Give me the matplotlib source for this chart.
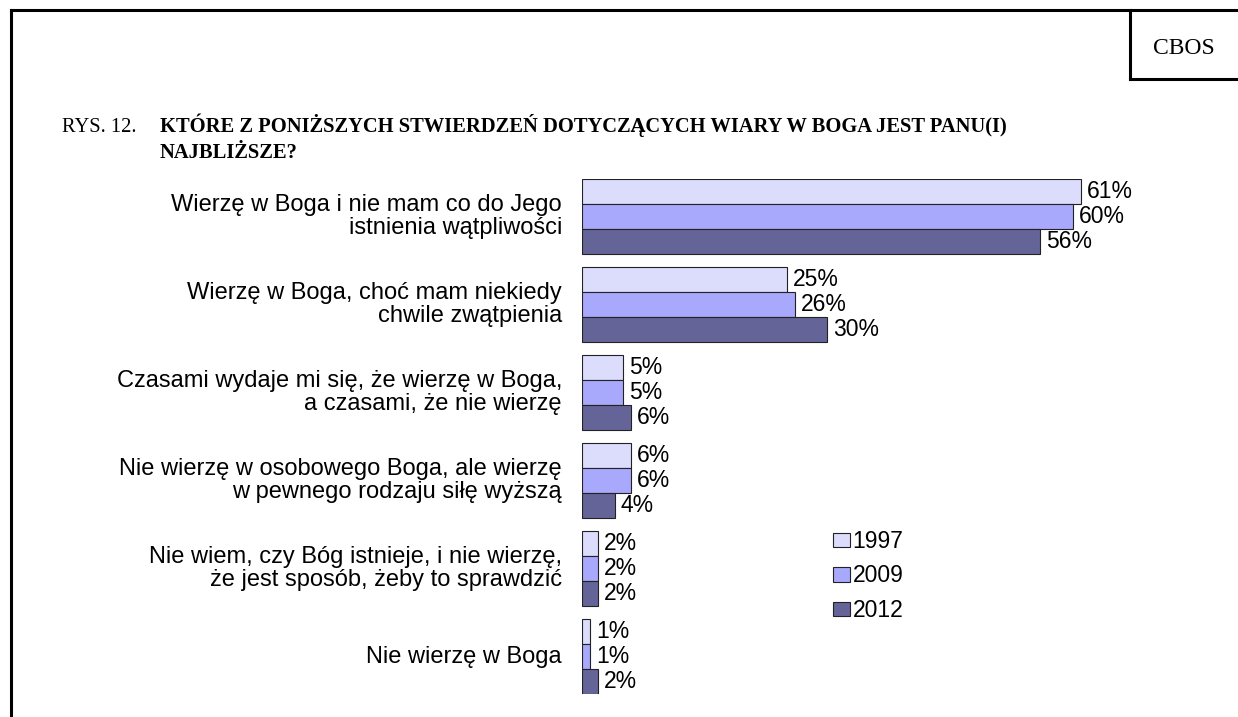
import numpy as np
import matplotlib.pyplot as plt
from matplotlib.lines import Line2D
from matplotlib.patches import Patch

categories = [
    'Wierzę w Boga i nie mam co do Jego\nistnienia wątpliwości',
    'Wierzę w Boga, choć mam niekiedy\nchwile zwątpienia',
    'Czasami wydaje mi się, że wierzę w Boga,\na czasami, że nie wierzę',
    'Nie wierzę w osobowego Boga, ale wierzę\nw pewnego rodzaju siłę wyższą',
    'Nie wiem, czy Bóg istnieje, i nie wierzę,\nże jest sposób, żeby to sprawdzić',
    'Nie wierzę w Boga',
]
years = ['1997', '2009', '2012']
v1997 = [61, 25, 5, 6, 2, 1]
v2009 = [60, 26, 5, 6, 2, 1]
v2012 = [56, 30, 6, 4, 2, 2]
colors = ['#dcdcfc', '#a8a8fc', '#646498']

W, H = 1238, 717
fs = 16.5
sans = 'Liberation Sans'
serif = 'Liberation Serif'

fig = plt.figure(figsize=(W / 100, H / 100), dpi=100)
fig.patch.set_facecolor('white')

# bar area: x from 582px, ~8.18 px per percent; y from 179px to 694px
px_per = 8.18
xmax = 70
ax = fig.add_axes([582 / W, 1 - 694 / H, xmax * px_per / W, (694 - 179) / H])
ax.set_axis_off()

h = 25 / 88
y = np.arange(len(categories))
for k, (vals, c, yr) in enumerate(zip([v1997, v2009, v2012], colors, years)):
    pos = y + (k - 1) * h
    ax.barh(pos, vals, height=h, color=c, edgecolor='#222222', linewidth=0.8,
            label=yr)
    for p, v in zip(pos, vals):
        ax.annotate(f'{v}%', xy=(v, p), xytext=(6, 0), textcoords='offset pixels',
                    ha='left', va='center', fontsize=fs, family=sans)

for i, cat in enumerate(categories):
    ax.annotate(cat, xy=(0, i), xytext=(-20, 0), textcoords='offset pixels',
                ha='right', va='center', fontsize=17, family=sans,
                linespacing=1.08)

ax.set_xlim(0, xmax)
ax.set_ylim(5 + 1.5 * h, -1.5 * h)

handles = [Patch(facecolor=c, edgecolor='#222222', linewidth=0.8) for c in colors]
fig.legend(handles, years, loc='center left', bbox_to_anchor=(833 / W, 1 - 576 / H),
           frameon=False, prop={'family': sans, 'size': fs},
           handlelength=0.75, handleheight=0.6, handletextpad=0.1,
           labelspacing=0.5, borderpad=0, borderaxespad=0)

# frame lines
lw = 2.2
fig.add_artist(Line2D([11 / W, 1], [1 - 10 / H, 1 - 10 / H], color='black', lw=lw))
fig.add_artist(Line2D([11 / W, 11 / W], [0, 1 - 10 / H], color='black', lw=lw))
fig.add_artist(Line2D([1130 / W, 1130 / W], [1 - 79 / H, 1 - 10 / H], color='black', lw=lw))
fig.add_artist(Line2D([1130 / W, 1], [1 - 79 / H, 1 - 79 / H], color='black', lw=lw))

fig.text(1184 / W, 1 - 54 / H, 'CBOS', ha='center', va='baseline', fontsize=17,
         family=serif)
fig.text(62 / W, 1 - 132 / H, 'RYS. 12.', ha='left', va='baseline', fontsize=14.8,
         family=serif)
fig.text(160 / W, 1 - 132 / H,
         'KTÓRE Z PONIŻSZYCH STWIERDZEŃ DOTYCZĄCYCH WIARY W BOGA JEST PANU(I)',
         ha='left', va='baseline', fontsize=14.8, family=serif, weight='bold')
fig.text(160 / W, 1 - 158 / H, 'NAJBLIŻSZE?', ha='left', va='baseline',
         fontsize=14.8, family=serif, weight='bold')

fig.savefig('out.png', dpi=100, facecolor='white')
